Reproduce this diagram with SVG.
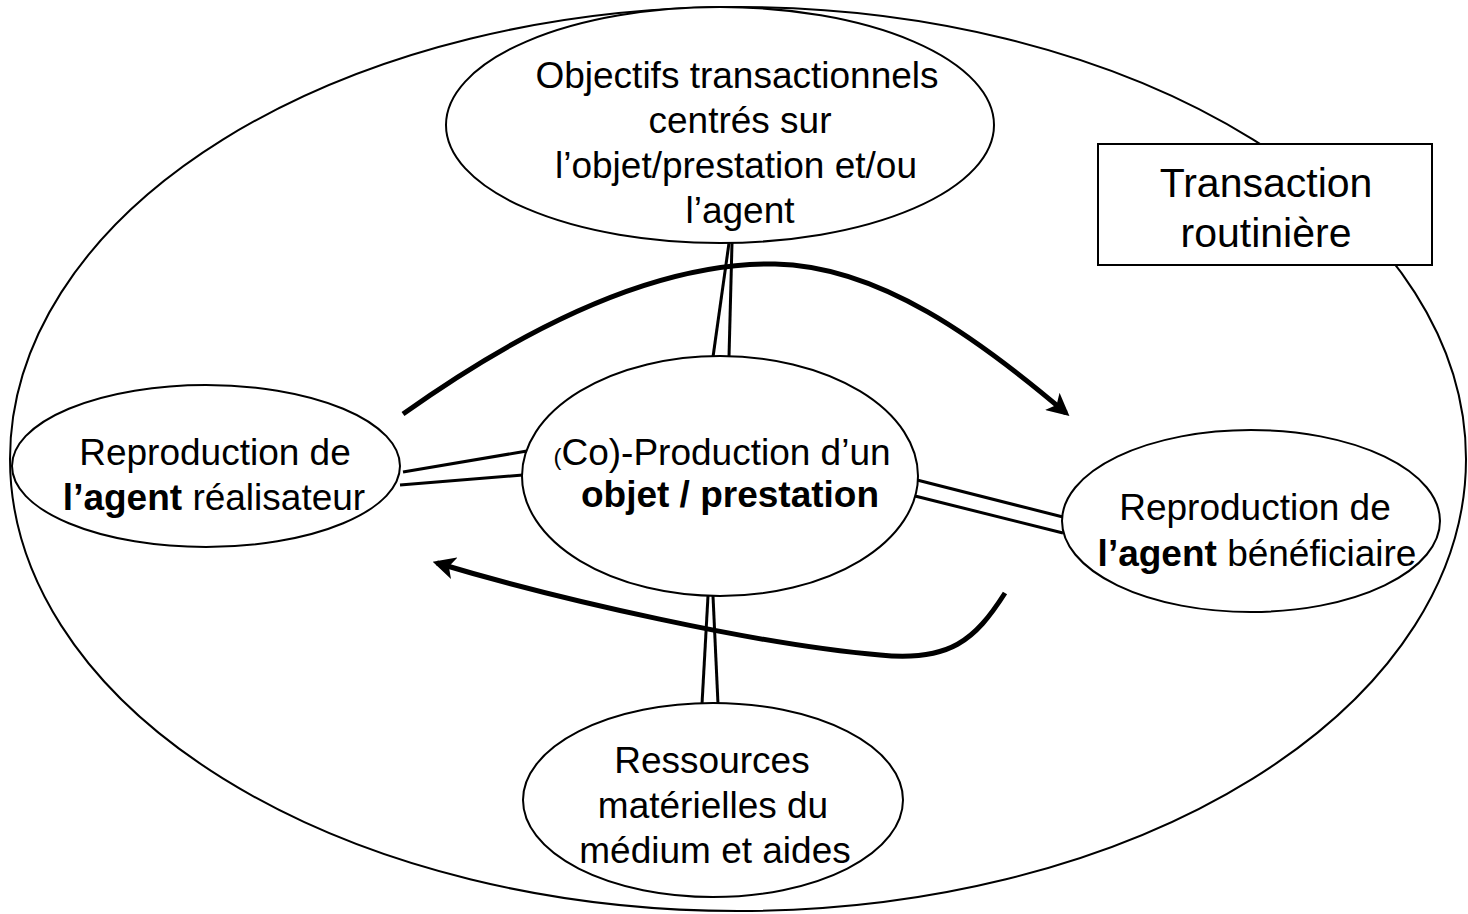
<svg xmlns="http://www.w3.org/2000/svg" width="1468" height="914" viewBox="0 0 1468 914">
<style>
.el{fill:#fff;stroke:#000;stroke-width:2}
.t{font-family:"Liberation Sans",Arial,sans-serif;font-size:37px;fill:#000;text-anchor:middle}
.bx{font-size:41px}
.b{font-weight:bold}
.c{stroke:#000;stroke-width:3;fill:none}
.a{stroke:#000;stroke-width:5;fill:none}
</style>
<defs>
<marker id="ah" viewBox="0 0 10 10" refX="8" refY="5" markerWidth="4.5" markerHeight="4.5" orient="auto" markerUnits="strokeWidth">
<path d="M0,0 L10,5 L0,10 L2.5,5 z" fill="#000"/>
</marker>
</defs>
<rect width="1468" height="914" fill="#fff"/>
<g id="outer"><ellipse class="el" cx="738" cy="459" rx="728" ry="452"/></g>
<g id="box">
<rect x="1098" y="144" width="334" height="121" fill="#fff" stroke="#000" stroke-width="2"/>
<text class="t bx" x="1266" y="197">Transaction</text>
<text class="t bx" x="1266" y="247">routinière</text>
</g>
<g id="connectors">
<line class="c" x1="729" y1="243" x2="713" y2="357"/>
<line class="c" x1="732" y1="243" x2="729" y2="357"/>
<line class="c" x1="708" y1="596" x2="702" y2="704"/>
<line class="c" x1="713" y1="596" x2="718" y2="704"/>
<line class="c" x1="403" y1="472" x2="527" y2="451"/>
<line class="c" x1="400" y1="485" x2="523" y2="475"/>
<line class="c" x1="917" y1="480" x2="1063" y2="517"/>
<line class="c" x1="915" y1="496" x2="1063" y2="533"/>
</g>
<g id="n-top">
<ellipse class="el" cx="720" cy="125" rx="274" ry="118"/>
<text class="t" x="737" y="88">Objectifs transactionnels</text>
<text class="t" x="740" y="133">centrés sur</text>
<text class="t" x="736" y="178">l’objet/prestation et/ou</text>
<text class="t" x="740" y="223">l’agent</text>
</g>
<g id="n-center">
<ellipse class="el" cx="720" cy="476" rx="198" ry="120"/>
<text class="t" x="722" y="465"><tspan style="font-size:24px">(</tspan>Co)-Production d’un</text>
<text class="t b" x="730" y="507">objet / prestation</text>
</g>
<g id="n-left">
<ellipse class="el" cx="206" cy="466" rx="194" ry="81"/>
<text class="t" x="215" y="465">Reproduction de</text>
<text class="t" x="214" y="510"><tspan class="b">l’agent</tspan> réalisateur</text>
</g>
<g id="n-right">
<ellipse class="el" cx="1251" cy="521" rx="189" ry="91"/>
<text class="t" x="1255" y="520">Reproduction de</text>
<text class="t" x="1257" y="566"><tspan class="b">l’agent</tspan> bénéficiaire</text>
</g>
<g id="n-bottom">
<ellipse class="el" cx="713" cy="800" rx="190" ry="97"/>
<text class="t" x="712" y="773">Ressources</text>
<text class="t" x="713" y="818">matérielles du</text>
<text class="t" x="715" y="863">médium et aides</text>
</g>
<g id="arrows">
<path class="a" marker-end="url(#ah)" d="M403,414 C500,345 640,262 775,264 C880,266 980,340 1066,413"/>
<path class="a" marker-end="url(#ah)" d="M1005,593 C975,640 950,662 880,655 C760,645 560,600 437,563"/>
</g>
</svg>
